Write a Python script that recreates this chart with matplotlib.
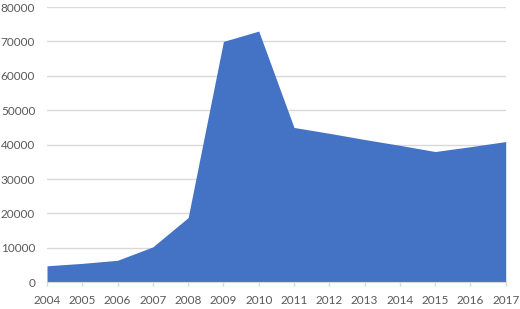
import matplotlib.pyplot as plt

years = [2004, 2005, 2006, 2007, 2008, 2009, 2010, 2011, 2012, 2013, 2014, 2015, 2016, 2017]
values = [4800, 5500, 6400, 10300, 18800, 70000, 73000, 45000, 43300, 41500, 39800, 38000, 39400, 40900]
yticks = [0, 10000, 20000, 30000, 40000, 50000, 60000, 70000, 80000]

plt.rcParams['font.family'] = ['Lato', 'DejaVu Sans']

fig = plt.figure(figsize=(5.2, 3.09), dpi=100)
ax = fig.add_axes([47 / 520, 1 - 282.3 / 309, 458.7 / 520, 275.3 / 309])

ax.fill_between(years, values, 0, color='#4472C4', linewidth=0, zorder=2)

ax.set_xlim(years[0], years[-1])
ax.set_ylim(0, 80000)
ax.set_xticks(years)
ax.set_xticklabels([str(y) for y in years])
ax.set_yticks(yticks)
ax.set_yticklabels([str(v) for v in yticks])

ax.grid(axis='y', color='#D9D9D9', linewidth=1, zorder=0)
for side in ['top', 'right', 'left']:
    ax.spines[side].set_visible(False)
ax.spines['bottom'].set_color('#D9D9D9')
ax.spines['bottom'].set_zorder(3)

ax.tick_params(axis='x', colors='#D9D9D9', length=3, width=1, direction='out',
               labelcolor='#595959', labelsize=8.5, pad=6)
ax.tick_params(axis='y', length=0, labelcolor='#595959', labelsize=8.5, pad=8.5)

fig.savefig('out.png', dpi=100)
